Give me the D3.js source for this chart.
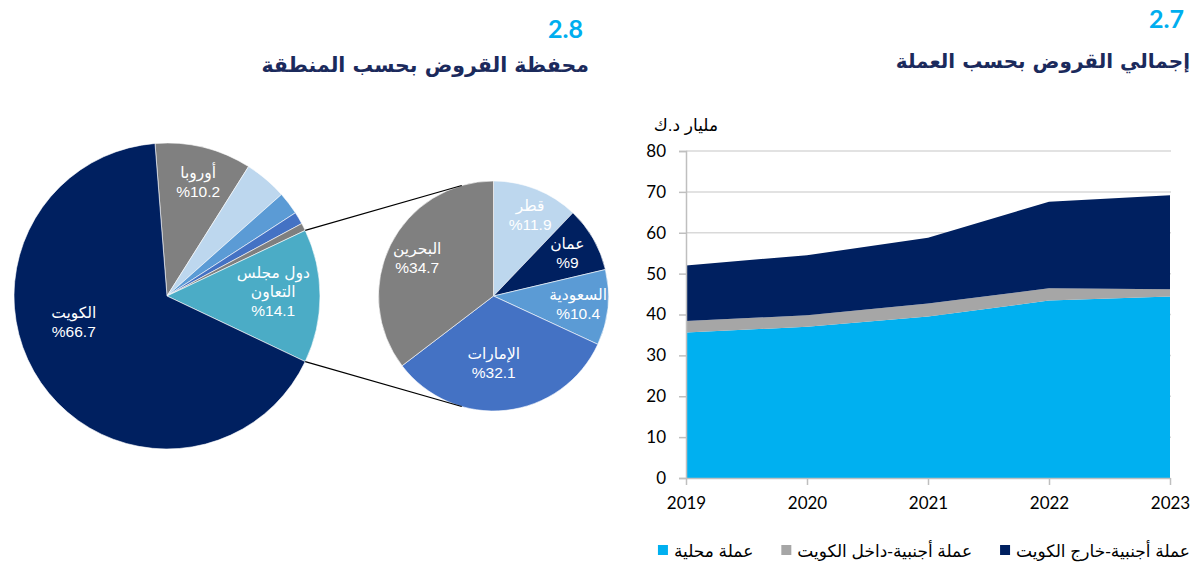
<!DOCTYPE html>
<html>
<head>
<meta charset="utf-8">
<script src="https://cdn.jsdelivr.net/npm/d3@7"></script>
<style>
body{margin:0;background:#fff;}
svg{display:block;}
</style>
</head>
<body>
<div id="chart"></div>
<script>
// ---- data: 2.8 loans by region ----
var regionNames = ["أوروبا", "آسيا", "أمريكا", "أفريقيا", "أخرى", "دول مجلس التعاون", "الكويت"];
var regionValues = [10.2, 4.5, 2.4, 1.3, 0.8, 14.1, 66.7];
var regionLabels = [["أوروبا"], null, null, null, null, ["دول مجلس", "التعاون"], ["الكويت"]];
var regionShown = [true, false, false, false, false, true, true];

// GCC breakdown (second pie)
var gccNames = ["قطر", "عمان", "السعودية", "الإمارات", "البحرين"];
var gccValues = [11.9, 9, 10.4, 32.1, 34.7];

// ---- data: 2.7 loans by currency ----
var years = ["2019", "2020", "2021", "2022", "2023"];
var localCur = [35.6, 37.0, 39.5, 43.4, 44.4];
var foreignIn = [2.8, 2.8, 3.2, 3.0, 1.8];
var foreignOut = [13.6, 14.7, 16.1, 21.2, 23.0];
var seriesNames = ["عملة محلية", "عملة أجنبية-داخل الكويت", "عملة أجنبية-خارج الكويت"];
var yTicks = [0, 10, 20, 30, 40, 50, 60, 70, 80];

// ---- styles ----
var W = 1195, H = 562;
var NAVY = "#002060";
var regionColors = ["#808080", "#BDD7EE", "#5B9BD5", "#4472C4", "#7F7F7F", "#4BACC6", NAVY];
var gccColors = ["#BDD7EE", NAVY, "#5B9BD5", "#4472C4", "#808080"];
var seriesColors = ["#00B0F0", "#A6A6A6", NAVY];
var AR_FONT = "Liberation Sans, DejaVu Sans, sans-serif";
var TITLE_FONT = "DejaVu Sans, sans-serif";
var NUM_FONT = "Lato, Carlito, sans-serif";
var TITLE_COLOR = "#1B2A5C";
var ACCENT = "#00AEEF";

var pie1 = {cx: 167, cy: 296, r: 153, start: -4.5 * Math.PI / 180, labelFrac: 0.74};
var pie2 = {cx: 493.5, cy: 296, r: 115, start: 0, labelFrac: 0.74};
var labelShift = {"الكويت": [0, -38], "الإمارات": [-9, -17], "أوروبا": [4, -4], "قطر": [5, -2], "دول مجلس التعاون": [-7, -4]};

var svg = d3.select("#chart").append("svg")
    .attr("width", W).attr("height", H)
    .attr("viewBox", [0, 0, W, H]);

// ---- titles ----
function title(num, text, xRight, yNum, yText, size){
    svg.append("text").attr("x", xRight).attr("y", yNum)
        .attr("text-anchor", "end").attr("font-family", NUM_FONT)
        .attr("font-weight", "bold").attr("font-size", 25).attr("fill", ACCENT)
        .text(num);
    svg.append("text").attr("x", xRight + 6).attr("y", yText)
        .attr("text-anchor", "end").attr("font-family", TITLE_FONT)
        .attr("font-weight", "bold").attr("font-size", size).attr("fill", TITLE_COLOR)
        .text(text);
}
title("2.8", "محفظة القروض بحسب المنطقة", 583, 38, 72, 20.5);
title("2.7", "إجمالي القروض بحسب العملة", 1184, 28, 68, 20);

// ---- pies ----
function drawPie(cfg, names, values, colors, labels, shown){
    var pie = d3.pie().sort(null).value(d => d)
        .startAngle(cfg.start).endAngle(cfg.start + 2 * Math.PI);
    var arcs = pie(values);
    var arc = d3.arc().innerRadius(0).outerRadius(cfg.r);
    var g = svg.append("g").attr("transform", "translate(" + cfg.cx + "," + cfg.cy + ")");
    g.selectAll("path").data(arcs).enter().append("path")
        .attr("d", arc)
        .attr("fill", (d, i) => colors[i])
        .attr("stroke", "#fff").attr("stroke-width", 0.6);

    var lr = cfg.r * cfg.labelFrac;
    arcs.forEach(function(a, i){
        if (!shown[i]) return;
        var mid = (a.startAngle + a.endAngle) / 2;
        var sh = labelShift[names[i]] || [0, 0];
        var x = lr * Math.sin(mid) + sh[0];
        var y = -lr * Math.cos(mid) + sh[1];
        var lines = labels[i].concat(["%" + values[i]]);
        var lh = 19;
        var y0 = y - (lines.length - 1) * lh / 2 + 5;
        var t = g.append("text").attr("text-anchor", "middle")
            .attr("font-family", AR_FONT).attr("font-size", 15.5).attr("fill", "#fff");
        lines.forEach(function(l, k){
            t.append("tspan").attr("x", x).attr("y", y0 + k * lh).text(l);
        });
    });
    return arcs;
}

var arcs1 = drawPie(pie1, regionNames, regionValues, regionColors, regionLabels, regionShown);
var gccLabels = gccNames.map(n => [n]);
drawPie(pie2, gccNames, gccValues, gccColors, gccLabels, gccNames.map(() => true));

// connector lines: tangent from GCC slice edges to the second pie
var gccArc = arcs1[5];
function edgePoint(cfg, ang){
    return [cfg.cx + cfg.r * Math.sin(ang), cfg.cy - cfg.r * Math.cos(ang)];
}
function tangent(p, cfg, upper){
    var dx = p[0] - cfg.cx, dy = p[1] - cfg.cy;
    var d = Math.sqrt(dx * dx + dy * dy);
    var base = Math.atan2(dy, dx);
    var a = Math.acos(cfg.r / d);
    var t1 = [cfg.cx + cfg.r * Math.cos(base + a), cfg.cy + cfg.r * Math.sin(base + a)];
    var t2 = [cfg.cx + cfg.r * Math.cos(base - a), cfg.cy + cfg.r * Math.sin(base - a)];
    if (upper) return t1[1] < t2[1] ? t1 : t2;
    return t1[1] > t2[1] ? t1 : t2;
}
[[gccArc.startAngle, true], [gccArc.endAngle, false]].forEach(function(e){
    var p = edgePoint(pie1, e[0]);
    var q = tangent(p, pie2, e[1]);
    svg.append("line")
        .attr("x1", p[0]).attr("y1", p[1]).attr("x2", q[0]).attr("y2", q[1])
        .attr("stroke", "#000").attr("stroke-width", 1.2);
});

// ---- stacked area chart ----
var plot = {left: 686, right: 1170, top: 151, bottom: 478};
var x = d3.scalePoint().domain(years).range([plot.left, plot.right]);
var y = d3.scaleLinear().domain([0, 80]).range([plot.bottom, plot.top]);

var table = years.map((yr, i) => ({year: yr, local: localCur[i], fin: foreignIn[i], fout: foreignOut[i]}));
var keys = ["local", "fin", "fout"];
var stacked = d3.stack().keys(keys)(table);

var ga = svg.append("g");
// gridlines
ga.selectAll("line.grid").data(yTicks.slice(1)).enter().append("line")
    .attr("class", "grid")
    .attr("x1", plot.left).attr("x2", plot.right + 1)
    .attr("y1", d => y(d)).attr("y2", d => y(d))
    .attr("stroke", "#D9D9D9").attr("stroke-width", 1.5);

var area = d3.area()
    .x((d, i) => x(years[i]))
    .y0(d => y(d[0])).y1(d => y(d[1]));
ga.selectAll("path.area").data(stacked).enter().append("path")
    .attr("class", "area")
    .attr("d", area)
    .attr("fill", (d, i) => seriesColors[i]);

// y axis
var yAxis = d3.axisLeft(y).tickValues(yTicks).tickSize(7).tickPadding(13);
var gy = svg.append("g").attr("transform", "translate(" + plot.left + ",0)").call(yAxis);
gy.select(".domain").attr("stroke", "#BFBFBF").attr("stroke-width", 1.5);
gy.selectAll(".tick line").attr("stroke", "#BFBFBF").attr("stroke-width", 1.5);
gy.selectAll("text").attr("font-family", NUM_FONT).attr("font-size", 17).attr("fill", "#000");

// x axis
var xAxis = d3.axisBottom(x).tickSize(7).tickPadding(12).tickSizeOuter(0);
var gx = svg.append("g").attr("transform", "translate(0," + plot.bottom + ")").call(xAxis);
gx.select(".domain").attr("stroke", "#BFBFBF").attr("stroke-width", 1.5);
gx.selectAll(".tick line").attr("stroke", "#BFBFBF").attr("stroke-width", 1.5);
gx.selectAll("text").attr("font-family", NUM_FONT).attr("font-size", 17).attr("fill", "#000");

// unit label
svg.append("text").attr("x", 718).attr("y", 131).attr("text-anchor", "end")
    .attr("font-family", AR_FONT).attr("font-size", 17).attr("fill", "#000")
    .text("مليار د.ك");

// legend (right to left)
var cursor = 1190;
[2, 1, 0].forEach(function(i){
    var t = svg.append("text").attr("x", cursor).attr("y", 557)
        .attr("text-anchor", "end").attr("font-family", AR_FONT)
        .attr("font-size", 17).attr("fill", "#000").text(seriesNames[i]);
    var w = t.node().getComputedTextLength();
    var sx = cursor - w - 6 - 10;
    svg.append("rect").attr("x", sx).attr("y", 545).attr("width", 10).attr("height", 10)
        .attr("fill", seriesColors[i]);
    cursor = sx - 28;
});
</script>
</body>
</html>
